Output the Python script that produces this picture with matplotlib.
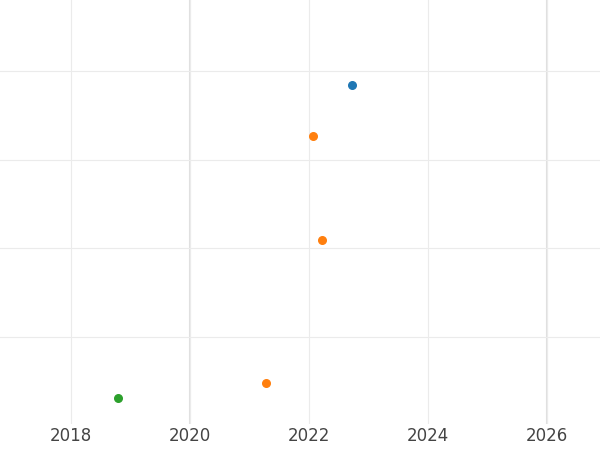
import numpy as np
import matplotlib.pyplot as plt

# decimal years and values
x_blue = [2022.72]
y_blue = [3.84]
x_orange = [2022.07, 2022.22, 2021.28]
y_orange = [3.27, 2.09, 0.48]
x_green = [2018.79]
y_green = [0.31]

fig = plt.figure(figsize=(6, 4.5), dpi=100)
ax = fig.add_axes([0, 0.058, 1, 0.942])
ax.scatter(x_blue, y_blue, color="#1f77b4", s=30, zorder=3)
ax.scatter(x_orange, y_orange, color="#ff7f0e", s=30, zorder=3)
ax.scatter(x_green, y_green, color="#2ca02c", s=30, zorder=3)

ax.set_xlim(2016.81, 2026.89)
ax.set_ylim(0.02, 4.80)
ax.set_xticks([2018, 2020, 2022, 2024, 2026])
ax.set_yticks([1, 2, 3, 4])
ax.set_yticklabels([])
ax.tick_params(length=0, labelsize=12, labelcolor="#444444", pad=2)
ax.tick_params(axis="y", left=False)
ax.grid(True, color="#ebebeb", linewidth=0.8)
for yr in (2020, 2026):
    ax.axvline(yr, color="#e0e0e0", linewidth=1.5, zorder=1)
for s in ax.spines.values():
    s.set_visible(False)

plt.savefig("out.png", dpi=100)
